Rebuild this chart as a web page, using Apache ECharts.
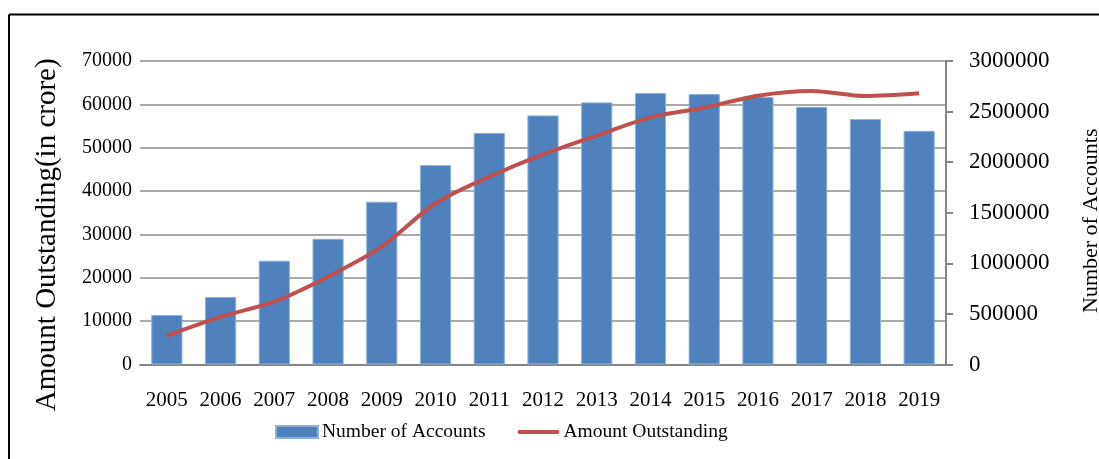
<!DOCTYPE html>
<html>
<head>
<meta charset="utf-8">
<script src="https://cdn.jsdelivr.net/npm/echarts@6/dist/echarts.min.js"></script>
<style>
  html, body { margin: 0; padding: 0; background: #fff; }
  #chart { width: 1099px; height: 459px; }
</style>
</head>
<body>
<div id="chart"></div>
<script>
const years = ['2005', '2006', '2007', '2008', '2009', '2010', '2011', '2012', '2013', '2014', '2015', '2016', '2017', '2018', '2019'];
const accounts = [489000, 667000, 1026000, 1243000, 1609000, 1971000, 2288000, 2462000, 2591000, 2683000, 2673000, 2643000, 2547000, 2426000, 2310000];
const amountOutstanding = [6640, 11000, 14500, 20250, 27170, 37180, 43310, 48480, 52770, 57000, 59230, 62000, 63080, 61920, 62550];

const font = '"Liberation Serif", "Times New Roman", serif';
const plain = v => String(v);
const chart = echarts.init(document.getElementById('chart'));

chart.setOption({
  backgroundColor: '#fff',
  animation: false,
  textStyle: { fontFamily: font, color: '#000' },
  graphic: [
    { type: 'line', shape: { x1: 9, y1: 14.5, x2: 1099, y2: 14.5 }, style: { stroke: '#000', lineWidth: 2 } },
    { type: 'line', shape: { x1: 9, y1: 14.5, x2: 9, y2: 459 }, style: { stroke: '#000', lineWidth: 2 } }
  ],
  grid: { left: 140, right: 153, top: 61, bottom: 94.5, containLabel: false, outerBoundsMode: 'none' },
  legend: {
    left: 270,
    top: 417,
    itemWidth: 42,
    itemHeight: 12,
    itemGap: 32,
    textStyle: { fontFamily: font, fontSize: 19.5, color: '#000', padding: [0, 0, 0, -1] },
    data: [
      { name: 'Number of Accounts', icon: 'rect' },
      { name: 'Amount Outstanding', icon: 'path://M2,0H41A2,2,0,0,1,41,4H2A2,2,0,0,1,2,0Z' }
    ]
  },
  xAxis: {
    type: 'category',
    data: years,
    axisLine: { lineStyle: { color: '#868686', width: 2 } },
    axisTick: { show: false },
    axisLabel: { fontFamily: font, fontSize: 21, color: '#000', margin: 25, interval: 0 }
  },
  yAxis: [
    {
      type: 'value',
      min: 0,
      max: 70000,
      interval: 10000,
      name: 'Amount Outstanding(in crore)',
      nameLocation: 'middle',
      nameGap: 78,
      nameTextStyle: { fontFamily: font, fontSize: 29, color: '#000', padding: [0, 44, 0, 0] },
      axisLine: { show: false },
      axisTick: { show: false },
      axisLabel: { fontFamily: font, fontSize: 20, color: '#000', margin: 8, formatter: plain },
      splitLine: { lineStyle: { color: '#8c8c8c', width: 1.5 } }
    },
    {
      type: 'value',
      min: 0,
      max: 3000000,
      interval: 500000,
      position: 'right',
      name: 'Number of Accounts',
      nameLocation: 'middle',
      nameGap: 134,
      nameRotate: 90,
      nameTextStyle: { fontFamily: font, fontSize: 22, color: '#000', padding: [0, 16, 0, 0] },
      axisLine: { show: true, lineStyle: { color: '#868686', width: 2 } },
      axisTick: { show: true, inside: false, length: 7, lineStyle: { color: '#868686', width: 2 } },
      axisLabel: { fontFamily: font, fontSize: 23, color: '#000', margin: 23, formatter: plain },
      splitLine: { show: false }
    }
  ],
  series: [
    {
      name: 'Number of Accounts',
      type: 'bar',
      yAxisIndex: 1,
      data: accounts,
      barWidth: '58%',
      itemStyle: { color: '#4F81BD', borderColor: '#8DB0DA', borderWidth: 1 }
    },
    {
      name: 'Amount Outstanding',
      type: 'line',
      yAxisIndex: 0,
      data: amountOutstanding,
      symbol: 'none',
      smooth: 0.3,
      lineStyle: { color: '#C0504D', width: 4 },
      itemStyle: { color: '#C0504D' }
    }
  ]
});
</script>
</body>
</html>
